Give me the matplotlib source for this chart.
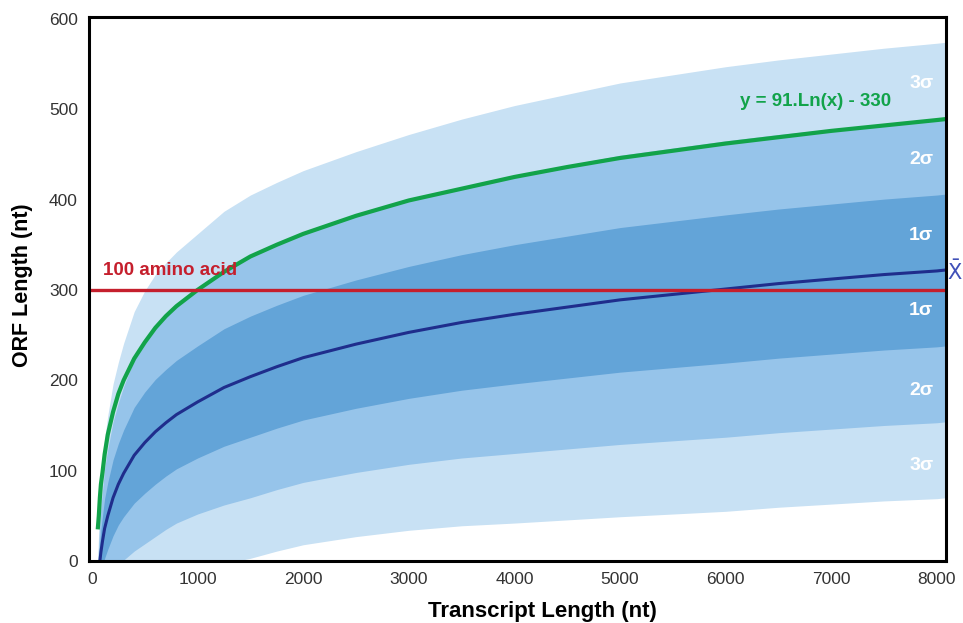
import matplotlib
matplotlib.use("Agg")
import matplotlib.pyplot as plt
import numpy as np

plt.rcParams['font.family'] = ['Liberation Sans', 'DejaVu Sans']

# values
transcript_len = [55, 65, 75, 85, 100, 120, 150, 200, 250, 300, 400, 500,
                  600, 700, 800, 1000, 1250, 1500, 1750, 2000, 2500, 3000,
                  3500, 4000, 4500, 5000, 5500, 6000, 6500, 7000, 7500,
                  8000, 8080]
orf_mean = [-20, -9, 0, 10, 22, 36, 50, 70, 85, 97, 117, 131,
            143, 153, 162, 176, 192, 204, 215, 225, 240, 253,
            264, 273, 281, 289, 295, 301, 307, 312, 317,
            321, 322]
orf_sd = [8, 15, 22, 25, 28, 33, 37, 42, 45, 48, 53, 56,
          58, 59, 60, 62, 65, 67, 68, 69, 71, 73,
          75, 77, 78.5, 80, 81, 82, 82.5, 83, 83.5,
          84, 84]
fit_line = [35, 50, 70, 85, 98, 118, 140, 165, 185, 200, 224, 242,
            258, 271, 282, 300, 320, 337, 350, 362, 382, 399,
            412, 425, 436, 446, 454, 462, 469, 476, 482,
            488, 489]
aa_cutoff = 300
fit_label = "y = 91.Ln(x) - 330"
cutoff_label = "100 amino acid"
sigma_labels = ["3σ", "2σ", "1σ", "1σ", "2σ", "3σ"]
sigma_label_y = [528, 444, 360, 277, 189, 106]

LIGHT = "#c8e1f4"
MEDIUM = "#96c4ea"
DARK = "#63a4d8"
GREEN = "#12a34a"
NAVY = "#1f2d8c"
RED = "#c51f2d"

x = np.array(transcript_len, dtype=float)
m = np.array(orf_mean, dtype=float)
s = np.array(orf_sd, dtype=float)

fig = plt.figure(figsize=(9.63, 6.23), dpi=100)
ax = fig.add_axes([0.0924, 0.0995, 0.8899, 0.8732])

# sigma bands, widest first
for k, col in [(3, LIGHT), (2, MEDIUM), (1, DARK)]:
    ax.fill_between(x, m - k * s, m + k * s, color=col, linewidth=0, zorder=1)

ax.plot(x, fit_line, color=GREEN, linewidth=3.0, zorder=3, solid_capstyle='butt')
ax.plot(x, m, color=NAVY, linewidth=2.2, zorder=3)
ax.axhline(aa_cutoff, color=RED, linewidth=2.4, zorder=4)

ax.text(104, 322, cutoff_label, color=RED, fontsize=13.5, fontweight='bold',
        ha='left', va='center', zorder=5)
ax.text(6850, 508, fit_label, color=GREEN, fontsize=13.5, fontweight='bold',
        ha='center', va='center', zorder=5)
for lab, yy in zip(sigma_labels, sigma_label_y):
    ax.text(7965, yy, lab, color='white', fontsize=14, fontweight='bold',
            ha='right', va='center', zorder=5)
ax.text(8165, 320, r'$\bar{\mathrm{X}}$', color='#4050b8', fontsize=15,
        ha='center', va='center', clip_on=False)

ax.set_xlim(-28, 8085)
ax.set_ylim(0, 602)
ax.set_xticks(range(0, 8001, 1000))
ax.set_yticks(range(0, 601, 100))
ax.tick_params(length=0, pad=8, labelsize=12.5, labelcolor='#333333')
for sp in ax.spines.values():
    sp.set_linewidth(2.2)
    sp.set_color('black')
    sp.set_zorder(6)

ax.set_xlabel("Transcript Length (nt)", fontsize=16, fontweight='bold', va='center')
ax.xaxis.set_label_coords(0.529, -0.092)
ax.set_ylabel("ORF Length (nt)", fontsize=15.5, fontweight='bold', va='center')
ax.yaxis.set_label_coords(-0.078, 0.507)

fig.savefig("out.png", dpi=100)
